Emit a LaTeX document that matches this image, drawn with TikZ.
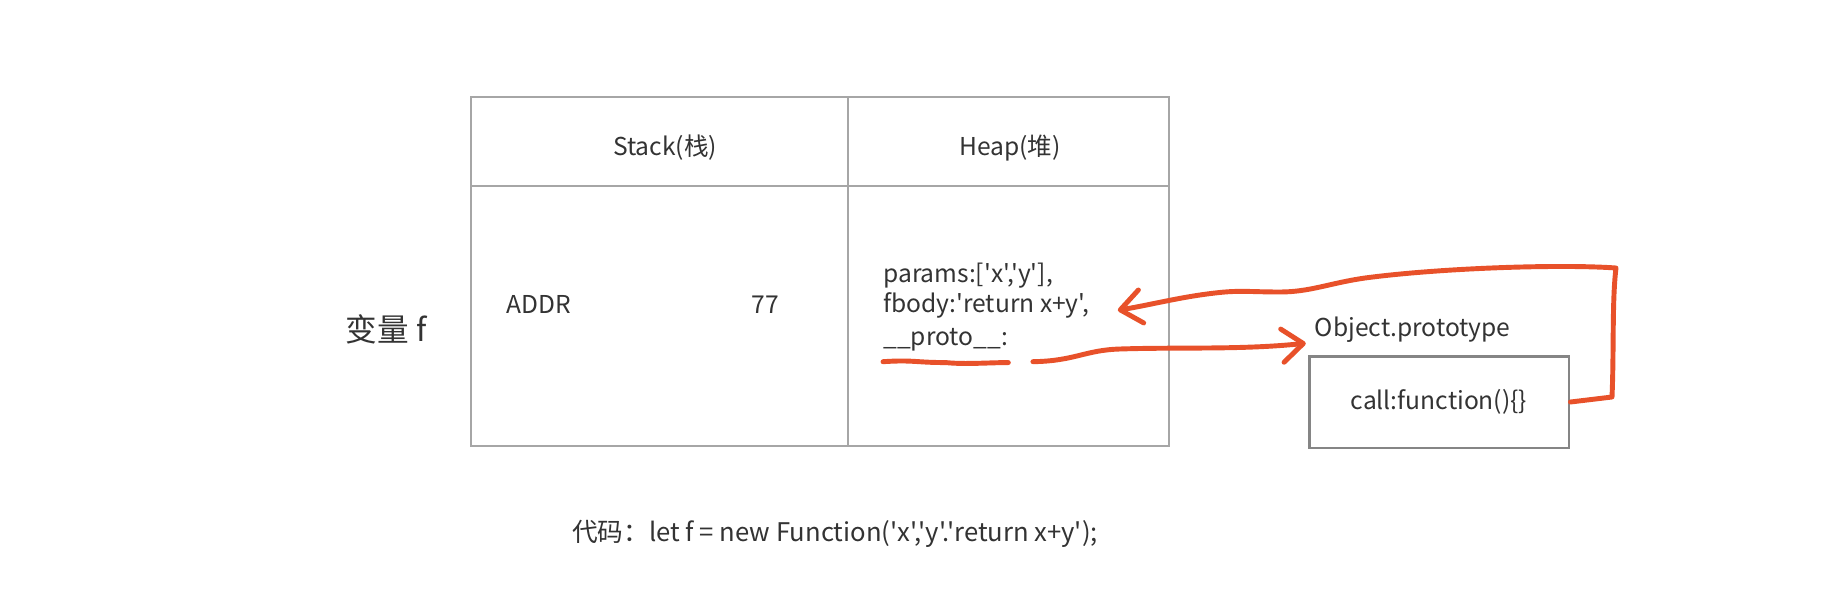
\documentclass[tikz,border=0pt]{standalone}
\usepackage{fontspec}
\newfontfamily\uifont{Noto Sans CJK SC}
\usetikzlibrary{arrows.meta,positioning}
\definecolor{Ink}{HTML}{333333}
\definecolor{Rule}{HTML}{A6A6A6}
\definecolor{BoxRule}{HTML}{858585}
\definecolor{Pen}{HTML}{E8512A}

\begin{document}
\begin{tikzpicture}[
  x=0.02cm,y=-0.02cm,
  txt/.style={text=Ink,font=\uifont\fontsize{14}{17}\selectfont,inner sep=0pt},
  heapline/.style={txt,anchor=base west},
  pen/.style={Pen,line width=2.8pt,line cap=round,line join=round},
  barb/.style={-{Straight Barb[length=12pt,width=19pt,line cap=round,line join=round]}}
]
  \useasboundingbox[fill=white] (0,0) rectangle (1842,602);
  % table
  \draw[Rule,line width=1.4pt] (471,97) rectangle (1169,446);
  \draw[Rule,line width=1.4pt] (471,186) -- (1169,186) (848,97) -- (848,446);
  \node[txt] (stackhead) at (665,148) {Stack(栈)};
  \node[txt] (heaphead) at (1010,148) {Heap(堆)};
  \node[txt,anchor=base west] (addr) at (506,313) {ADDR};
  \node[txt,anchor=base] (val) at (765,313) {77};
  \node[txt,font=\uifont\fontsize{18}{21}\selectfont] (var) at (386,329) {变量 f};
  \node[heapline] (params) at (883,282) {params:['x','y'],};
  \node[heapline] (fbody) at (883,312) {fbody:'return x+y',};
  \node[heapline] (proto) at (883,345) {\_\_proto\_\_:};
  % Object.prototype
  \node[draw=BoxRule,line width=1.7pt,minimum width=5.2cm,minimum height=1.84cm,txt,inner sep=0pt] (callbox) at (1439,402) {call:function()\{\}};
  \node[txt,anchor=base west] (objlabel) at ([xshift=4pt,yshift=10pt]callbox.north west) {Object.prototype};
  \node[txt,font=\uifont\fontsize{14.6}{17}\selectfont] (code) at (835,534) {代码：let f = new Function('x','y'.'return x+y');};
  % red pen
  \draw[pen] ([yshift=-9.5pt]proto.base west) .. controls +(30,-2) and +(-30,0) .. ([yshift=-10pt]proto.base) .. controls +(20,2) and +(-20,0) .. ([yshift=-10pt]proto.base east);
  \coordinate (dashfrom) at ([xshift=14pt,yshift=-9.5pt]proto.base east);
  \draw[pen,barb] (dashfrom) .. controls (1075,361) and (1085,350) .. (1120,349) .. controls (1180,347) and (1240,350) .. ([xshift=-5pt]objlabel.south west);
  \draw[pen,barb] (callbox.east) -- (1612,397) .. controls (1614,350) and (1612,300) .. (1616,268) .. controls (1560,264) and (1440,268) .. (1365,278) .. controls (1330,283) and (1310,292) .. (1280,292) .. controls (1250,292) and (1240,290) .. (1215,293) .. controls (1180,297) and (1150,305) .. ([xshift=16pt,yshift=1pt]fbody.base east);
\end{tikzpicture}
\end{document}
